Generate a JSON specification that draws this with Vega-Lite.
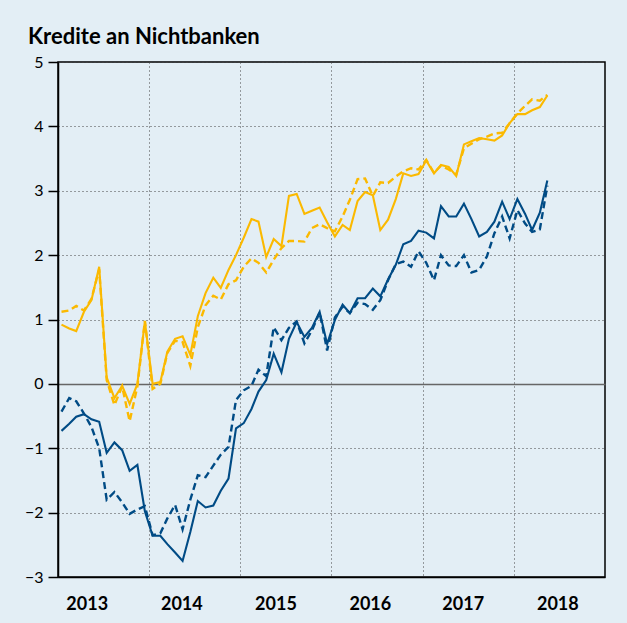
{
  "$schema": "https://vega.github.io/schema/vega-lite/v6.json",
  "width": 547,
  "height": 515,
  "autosize": {"type": "none"},
  "padding": {"left": 58, "top": 62, "right": 22, "bottom": 46},
  "background": "#e3eef5",
  "title": {"text": "Kredite an Nichtbanken", "anchor": "start", "frame": "group", "dx": -30, "dy": 30, "offset": 18, "fontSize": 22, "fontWeight": "bold", "font": "Lato", "color": "#000", "baseline": "alphabetic"},
  "config": {
    "view": {"stroke": "#000", "strokeWidth": 1.5, "fill": "#e3eef5"},
    "axis": {"labelColor": "#000", "labelFont": "Lato", "titleFont": "Lato"}
  },
  "data": {"values": [
    {"monat": "2013-01-15", "gelb": 0.92, "gelb_gestrichelt": 1.12, "blau": -0.73, "blau_gestrichelt": -0.43},
    {"monat": "2013-02-15", "gelb": 0.86, "gelb_gestrichelt": 1.14, "blau": -0.62, "blau_gestrichelt": -0.22},
    {"monat": "2013-03-15", "gelb": 0.82, "gelb_gestrichelt": 1.21, "blau": -0.51, "blau_gestrichelt": -0.27},
    {"monat": "2013-04-15", "gelb": 1.12, "gelb_gestrichelt": 1.14, "blau": -0.47, "blau_gestrichelt": -0.46},
    {"monat": "2013-05-15", "gelb": 1.30, "gelb_gestrichelt": 1.32, "blau": -0.55, "blau_gestrichelt": -0.67},
    {"monat": "2013-06-15", "gelb": 1.82, "gelb_gestrichelt": 1.78, "blau": -0.59, "blau_gestrichelt": -1.00},
    {"monat": "2013-07-15", "gelb": 0.10, "gelb_gestrichelt": 0.06, "blau": -1.07, "blau_gestrichelt": -1.80},
    {"monat": "2013-08-15", "gelb": -0.22, "gelb_gestrichelt": -0.33, "blau": -0.91, "blau_gestrichelt": -1.68},
    {"monat": "2013-09-15", "gelb": -0.03, "gelb_gestrichelt": -0.04, "blau": -1.03, "blau_gestrichelt": -1.84},
    {"monat": "2013-10-15", "gelb": -0.31, "gelb_gestrichelt": -0.58, "blau": -1.35, "blau_gestrichelt": -2.02},
    {"monat": "2013-11-15", "gelb": 0.00, "gelb_gestrichelt": -0.04, "blau": -1.26, "blau_gestrichelt": -1.95},
    {"monat": "2013-12-15", "gelb": 0.97, "gelb_gestrichelt": 0.98, "blau": -1.98, "blau_gestrichelt": -1.90},
    {"monat": "2014-01-15", "gelb": 0.00, "gelb_gestrichelt": -0.08, "blau": -2.36, "blau_gestrichelt": -2.35},
    {"monat": "2014-02-15", "gelb": 0.03, "gelb_gestrichelt": 0.00, "blau": -2.36, "blau_gestrichelt": -2.32},
    {"monat": "2014-03-15", "gelb": 0.50, "gelb_gestrichelt": 0.48, "blau": -2.49, "blau_gestrichelt": -2.09},
    {"monat": "2014-04-15", "gelb": 0.70, "gelb_gestrichelt": 0.67, "blau": -2.62, "blau_gestrichelt": -1.88},
    {"monat": "2014-05-15", "gelb": 0.74, "gelb_gestrichelt": 0.65, "blau": -2.75, "blau_gestrichelt": -2.26},
    {"monat": "2014-06-15", "gelb": 0.45, "gelb_gestrichelt": 0.28, "blau": -2.30, "blau_gestrichelt": -1.80},
    {"monat": "2014-07-15", "gelb": 1.05, "gelb_gestrichelt": 0.88, "blau": -1.82, "blau_gestrichelt": -1.42},
    {"monat": "2014-08-15", "gelb": 1.41, "gelb_gestrichelt": 1.22, "blau": -1.92, "blau_gestrichelt": -1.45},
    {"monat": "2014-09-15", "gelb": 1.65, "gelb_gestrichelt": 1.37, "blau": -1.89, "blau_gestrichelt": -1.27},
    {"monat": "2014-10-15", "gelb": 1.49, "gelb_gestrichelt": 1.31, "blau": -1.66, "blau_gestrichelt": -1.10},
    {"monat": "2014-11-15", "gelb": 1.77, "gelb_gestrichelt": 1.55, "blau": -1.47, "blau_gestrichelt": -0.98},
    {"monat": "2014-12-15", "gelb": 2.00, "gelb_gestrichelt": 1.61, "blau": -0.69, "blau_gestrichelt": -0.25},
    {"monat": "2015-01-15", "gelb": 2.27, "gelb_gestrichelt": 1.82, "blau": -0.61, "blau_gestrichelt": -0.10},
    {"monat": "2015-02-15", "gelb": 2.56, "gelb_gestrichelt": 1.95, "blau": -0.39, "blau_gestrichelt": -0.03},
    {"monat": "2015-03-15", "gelb": 2.52, "gelb_gestrichelt": 1.88, "blau": -0.12, "blau_gestrichelt": 0.22},
    {"monat": "2015-04-15", "gelb": 1.97, "gelb_gestrichelt": 1.73, "blau": 0.06, "blau_gestrichelt": 0.12},
    {"monat": "2015-05-15", "gelb": 2.25, "gelb_gestrichelt": 1.93, "blau": 0.47, "blau_gestrichelt": 0.88},
    {"monat": "2015-06-15", "gelb": 2.14, "gelb_gestrichelt": 2.11, "blau": 0.18, "blau_gestrichelt": 0.68},
    {"monat": "2015-07-15", "gelb": 2.92, "gelb_gestrichelt": 2.22, "blau": 0.70, "blau_gestrichelt": 0.87},
    {"monat": "2015-08-15", "gelb": 2.95, "gelb_gestrichelt": 2.22, "blau": 0.96, "blau_gestrichelt": 0.97},
    {"monat": "2015-09-15", "gelb": 2.64, "gelb_gestrichelt": 2.21, "blau": 0.73, "blau_gestrichelt": 0.63},
    {"monat": "2015-10-15", "gelb": 2.69, "gelb_gestrichelt": 2.42, "blau": 0.87, "blau_gestrichelt": 0.83},
    {"monat": "2015-11-15", "gelb": 2.74, "gelb_gestrichelt": 2.48, "blau": 1.12, "blau_gestrichelt": 1.11},
    {"monat": "2015-12-15", "gelb": 2.51, "gelb_gestrichelt": 2.42, "blau": 0.62, "blau_gestrichelt": 0.52},
    {"monat": "2016-01-15", "gelb": 2.29, "gelb_gestrichelt": 2.37, "blau": 0.99, "blau_gestrichelt": 1.03},
    {"monat": "2016-02-15", "gelb": 2.47, "gelb_gestrichelt": 2.60, "blau": 1.23, "blau_gestrichelt": 1.20},
    {"monat": "2016-03-15", "gelb": 2.39, "gelb_gestrichelt": 2.86, "blau": 1.10, "blau_gestrichelt": 1.10},
    {"monat": "2016-04-15", "gelb": 2.84, "gelb_gestrichelt": 3.18, "blau": 1.33, "blau_gestrichelt": 1.26},
    {"monat": "2016-05-15", "gelb": 2.98, "gelb_gestrichelt": 3.19, "blau": 1.33, "blau_gestrichelt": 1.24},
    {"monat": "2016-06-15", "gelb": 2.93, "gelb_gestrichelt": 2.92, "blau": 1.48, "blau_gestrichelt": 1.15},
    {"monat": "2016-07-15", "gelb": 2.39, "gelb_gestrichelt": 3.13, "blau": 1.36, "blau_gestrichelt": 1.30},
    {"monat": "2016-08-15", "gelb": 2.55, "gelb_gestrichelt": 3.12, "blau": 1.62, "blau_gestrichelt": 1.61},
    {"monat": "2016-09-15", "gelb": 2.87, "gelb_gestrichelt": 3.22, "blau": 1.85, "blau_gestrichelt": 1.86},
    {"monat": "2016-10-15", "gelb": 3.27, "gelb_gestrichelt": 3.30, "blau": 2.17, "blau_gestrichelt": 1.90},
    {"monat": "2016-11-15", "gelb": 3.23, "gelb_gestrichelt": 3.35, "blau": 2.22, "blau_gestrichelt": 1.82},
    {"monat": "2016-12-15", "gelb": 3.26, "gelb_gestrichelt": 3.33, "blau": 2.38, "blau_gestrichelt": 2.06},
    {"monat": "2017-01-15", "gelb": 3.47, "gelb_gestrichelt": 3.48, "blau": 2.35, "blau_gestrichelt": 1.88},
    {"monat": "2017-02-15", "gelb": 3.27, "gelb_gestrichelt": 3.28, "blau": 2.26, "blau_gestrichelt": 1.61},
    {"monat": "2017-03-15", "gelb": 3.40, "gelb_gestrichelt": 3.39, "blau": 2.76, "blau_gestrichelt": 2.00},
    {"monat": "2017-04-15", "gelb": 3.37, "gelb_gestrichelt": 3.33, "blau": 2.60, "blau_gestrichelt": 1.84},
    {"monat": "2017-05-15", "gelb": 3.23, "gelb_gestrichelt": 3.25, "blau": 2.60, "blau_gestrichelt": 1.83},
    {"monat": "2017-06-15", "gelb": 3.72, "gelb_gestrichelt": 3.66, "blau": 2.80, "blau_gestrichelt": 2.00},
    {"monat": "2017-07-15", "gelb": 3.77, "gelb_gestrichelt": 3.73, "blau": 2.56, "blau_gestrichelt": 1.73},
    {"monat": "2017-08-15", "gelb": 3.82, "gelb_gestrichelt": 3.80, "blau": 2.29, "blau_gestrichelt": 1.77},
    {"monat": "2017-09-15", "gelb": 3.80, "gelb_gestrichelt": 3.84, "blau": 2.36, "blau_gestrichelt": 1.98},
    {"monat": "2017-10-15", "gelb": 3.78, "gelb_gestrichelt": 3.89, "blau": 2.52, "blau_gestrichelt": 2.34},
    {"monat": "2017-11-15", "gelb": 3.86, "gelb_gestrichelt": 3.90, "blau": 2.83, "blau_gestrichelt": 2.60},
    {"monat": "2017-12-15", "gelb": 4.05, "gelb_gestrichelt": 4.05, "blau": 2.56, "blau_gestrichelt": 2.26},
    {"monat": "2018-01-15", "gelb": 4.19, "gelb_gestrichelt": 4.20, "blau": 2.87, "blau_gestrichelt": 2.70},
    {"monat": "2018-02-15", "gelb": 4.19, "gelb_gestrichelt": 4.32, "blau": 2.64, "blau_gestrichelt": 2.49},
    {"monat": "2018-03-15", "gelb": 4.25, "gelb_gestrichelt": 4.42, "blau": 2.39, "blau_gestrichelt": 2.36},
    {"monat": "2018-04-15", "gelb": 4.30, "gelb_gestrichelt": 4.40, "blau": 2.66, "blau_gestrichelt": 2.40},
    {"monat": "2018-05-15", "gelb": 4.48, "gelb_gestrichelt": 4.49, "blau": 3.16, "blau_gestrichelt": 3.08}
  ]},
  "transform": [{"fold": ["gelb", "gelb_gestrichelt", "blau", "blau_gestrichelt"], "as": ["reihe", "wert"]}],
  "encoding": {
    "y": {
      "field": "wert", "type": "quantitative",
      "scale": {"domain": [-3, 5], "nice": false, "zero": false},
      "axis": {
        "title": null, "values": [-3, -2, -1, 0, 1, 2, 3, 4, 5],
        "grid": true,
        "gridColor": {"condition": {"test": "datum.value === 0", "value": "#666666"}, "value": "#444444"},
        "gridDash": {"condition": {"test": "datum.value === 0", "value": []}, "value": [1, 3]},
        "gridWidth": {"condition": {"test": "datum.value === 0", "value": 1.6}, "value": 1},
        "domainColor": "#000", "domainWidth": 1.5,
        "tickColor": "#000", "tickWidth": 1.5, "tickSize": 10,
        "labelFontSize": 16, "labelPadding": 5
      }
    },
    "color": {
      "field": "reihe", "type": "nominal", "legend": null,
      "scale": {"domain": ["gelb", "gelb_gestrichelt", "blau", "blau_gestrichelt"], "range": ["#fbb900", "#fbb900", "#004b85", "#004b85"]}
    }
  },
  "layer": [
    {
      "transform": [{"filter": "indexof(datum.reihe, 'gestrichelt') < 0"}],
      "mark": {"type": "line", "strokeWidth": 2.1},
      "encoding": {
        "x": {
          "field": "monat", "type": "temporal",
          "scale": {"type": "utc", "domain": [{"year": 2013, "month": 1, "date": 1, "utc": true}, {"year": 2019, "month": 1, "date": 1, "utc": true}]},
          "axis": {
            "orient": "bottom", "title": null, "labels": false, "ticks": false,
            "values": [{"year": 2014, "month": 1, "date": 1, "utc": true}, {"year": 2015, "month": 1, "date": 1, "utc": true}, {"year": 2016, "month": 1, "date": 1, "utc": true}, {"year": 2017, "month": 1, "date": 1, "utc": true}, {"year": 2018, "month": 1, "date": 1, "utc": true}],
            "grid": true, "gridDash": [1, 3], "gridColor": "#444444", "gridWidth": 1,
            "domainColor": "#000", "domainWidth": 1.5
          }
        }
      }
    },
    {
      "transform": [{"filter": "indexof(datum.reihe, 'gestrichelt') >= 0"}],
      "mark": {"type": "line", "strokeWidth": 2.4, "strokeDash": [7, 4]},
      "encoding": {
        "x": {
          "field": "monat", "type": "temporal",
          "axis": {
            "orient": "bottom", "title": null, "grid": false, "ticks": false, "domain": false,
            "values": [{"year": 2013, "month": 4, "date": 26, "utc": true}, {"year": 2014, "month": 5, "date": 10, "utc": true}, {"year": 2015, "month": 5, "date": 22, "utc": true}, {"year": 2016, "month": 6, "date": 3, "utc": true}, {"year": 2017, "month": 6, "date": 10, "utc": true}, {"year": 2018, "month": 6, "date": 24, "utc": true}],
            "labelExpr": "utcFormat(datum.value, '%Y')",
            "labelFontSize": 18, "labelFontWeight": "bold", "labelPadding": 18
          }
        }
      }
    }
  ],
  "resolve": {"axis": {"x": "independent"}}
}
